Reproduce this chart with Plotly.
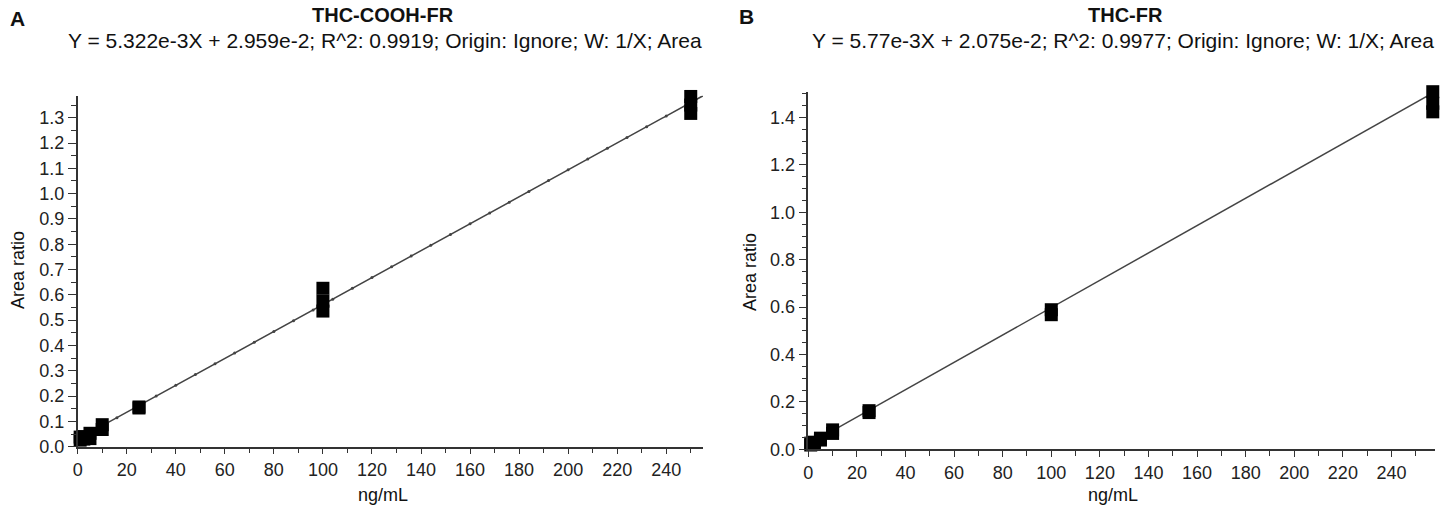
import numpy as np
import plotly.graph_objects as go

# ---------------- data ----------------
title_A = "THC-COOH-FR"
eq_A = "Y = 5.322e-3X + 2.959e-2; R^2: 0.9919; Origin: Ignore; W: 1/X; Area"
slope_A, intercept_A = 5.322e-3, 2.959e-2
conc_A = [1, 1, 2.5, 2.5, 5, 5, 10, 10, 25, 25, 100, 100, 100, 250, 250, 250]
ratio_A = [0.026, 0.038, 0.030, 0.040, 0.032, 0.053, 0.068, 0.087, 0.153, 0.157,
           0.536, 0.575, 0.626, 1.317, 1.350, 1.384]

title_B = "THC-FR"
eq_B = "Y = 5.77e-3X + 2.075e-2; R^2: 0.9977; Origin: Ignore; W: 1/X; Area"
slope_B, intercept_B = 5.77e-3, 2.075e-2
conc_B = [1, 1, 2.5, 2.5, 5, 5, 10, 10, 25, 25, 100, 100, 257, 257, 257]
ratio_B = [0.018, 0.026, 0.022, 0.030, 0.039, 0.047, 0.067, 0.082, 0.155, 0.163,
           0.568, 0.589, 1.424, 1.460, 1.509]

x_title = "ng/mL"
y_title = "Area ratio"

# ---------------- figure ----------------
W, H = 1445, 506
FONT = "Liberation Sans, Arial, Helvetica, sans-serif"
LINE_C = "#444444"
AX_C = "#333333"

def px_x(p):
    return p / W

def px_y(p):
    return 1 - p / H

fig = go.Figure()

xfitA = np.linspace(0, 255, 400)
fig.add_trace(go.Scatter(x=xfitA, y=slope_A * xfitA + intercept_A, mode="lines",
                         line=dict(color=LINE_C, width=1.5), xaxis="x", yaxis="y",
                         hoverinfo="skip"))
xdotA = np.arange(0, 255, 8)
fig.add_trace(go.Scatter(x=xdotA, y=slope_A * xdotA + intercept_A, mode="markers",
                         marker=dict(color=LINE_C, size=3), xaxis="x", yaxis="y",
                         hoverinfo="skip"))
fig.add_trace(go.Scatter(x=conc_A, y=ratio_A, mode="markers",
                         marker=dict(symbol="square", size=13, color="black",
                                     line=dict(width=0)),
                         cliponaxis=False, xaxis="x", yaxis="y"))

xfitB = np.linspace(0, 262, 400)
fig.add_trace(go.Scatter(x=xfitB, y=slope_B * xfitB + intercept_B, mode="lines",
                         line=dict(color=LINE_C, width=1.5), xaxis="x2", yaxis="y2",
                         hoverinfo="skip"))
fig.add_trace(go.Scatter(x=conc_B, y=ratio_B, mode="markers",
                         marker=dict(symbol="square", size=13, color="black",
                                     line=dict(width=0)),
                         cliponaxis=False, xaxis="x2", yaxis="y2"))

tickfont = dict(family=FONT, size=18, color="#222222")

def xaxis(domain, rng, anchor):
    return dict(domain=domain, range=rng, anchor=anchor, showgrid=False, zeroline=False,
                automargin=False,
                showline=True, linecolor=AX_C, linewidth=1.5,
                ticks="outside", ticklen=6, tickwidth=1.3, tickcolor=AX_C,
                tick0=0, dtick=20, tickfont=tickfont,
                minor=dict(dtick=10, ticks="outside", ticklen=5, tickwidth=1.2,
                           tickcolor=AX_C, showgrid=False))

def yaxis(domain, rng, anchor, dt, fmt):
    return dict(domain=domain, range=rng, anchor=anchor, showgrid=False, zeroline=False,
                automargin=False,
                showline=True, linecolor=AX_C, linewidth=1.5,
                ticks="outside", ticklen=8, tickwidth=1.3, tickcolor=AX_C,
                tick0=0, dtick=dt, tickformat=fmt, tickfont=tickfont,
                minor=dict(dtick=0.05, ticks="outside", ticklen=5, tickwidth=1.2,
                           tickcolor=AX_C, showgrid=False))

fig.update_layout(
    width=W, height=H, margin=dict(l=0, r=0, t=0, b=0, autoexpand=False),
    paper_bgcolor="white", plot_bgcolor="white", showlegend=False,
    font=dict(family=FONT, color="#222222"),
    xaxis=xaxis([px_x(77.7), px_x(703)], [0, 255], "y"),
    yaxis=yaxis([px_y(446.7), px_y(95.7)], [0, 1.387], "x", 0.1, ".1f"),
    xaxis2=xaxis([px_x(808.3), px_x(1435.2)], [0, 258], "y2"),
    yaxis2=yaxis([px_y(449.3), px_y(91.7)], [0, 1.509], "x2", 0.2, ".1f"),
)

ann = []
def text(x, y, s, size, bold=False, angle=0, xanchor="center"):
    ann.append(dict(x=px_x(x), y=px_y(y), xref="paper", yref="paper",
                    text=("<b>" + s + "</b>") if bold else s,
                    showarrow=False, xanchor=xanchor, yanchor="middle", textangle=angle,
                    font=dict(family=FONT, size=size, color="#111111")))

text(8, 18, "A", 21, bold=True, xanchor="left")
text(383, 15, title_A, 20, bold=True)
text(385, 41, eq_A, 21)
text(383, 495, x_title, 18)
text(18, 270, y_title, 18, angle=-90)

text(737, 16, "B", 21, bold=True, xanchor="left")
text(1125, 15, title_B, 20, bold=True)
text(1123, 41, eq_B, 21)
text(1113, 495, x_title, 18)
text(750, 272, y_title, 18, angle=-90)

fig.update_layout(annotations=ann)

fig.write_html(
    "out.html",
    config={"displayModeBar": False},
    post_script="document.body.style.margin='0';document.body.style.padding='0';"
)
